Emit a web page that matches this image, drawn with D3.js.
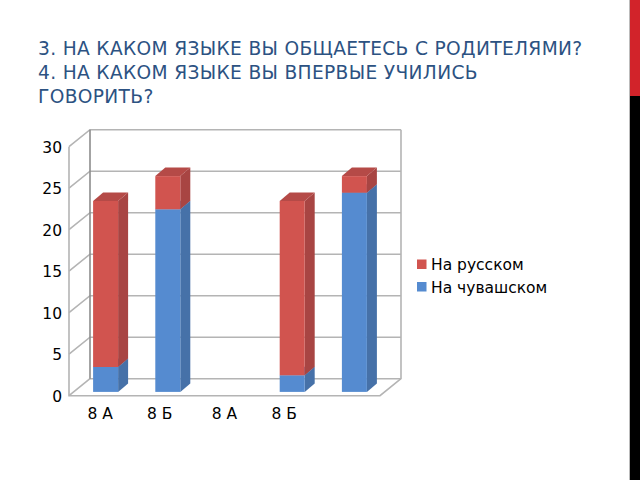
<!DOCTYPE html>
<html>
<head>
<meta charset="utf-8">
<script src="https://cdnjs.cloudflare.com/ajax/libs/d3/7.8.5/d3.min.js"></script>
<style>
html, body { margin: 0; padding: 0; background: #fff; }
svg { display: block; }
</style>
</head>
<body>
<svg id="chart" width="640" height="480"></svg>
<script>
// DATA -------------------------------------------------------------------
var titleLines = [
  "3. НА КАКОМ ЯЗЫКЕ ВЫ ОБЩАЕТЕСЬ С РОДИТЕЛЯМИ?",
  "4. НА КАКОМ ЯЗЫКЕ ВЫ ВПЕРВЫЕ УЧИЛИСЬ",
  "ГОВОРИТЬ?"
];
// the labels sit in the first four slots, the last slot has no label
var slots = [0, 1, 2, 3, 4];
var slotLabels = ["8 А", "8 Б", "8 А", "8 Б", ""];
var chuvash = [3, 22, 0, 2, 24];
var russian = [20, 4, 0, 21, 2];
var seriesNames = ["На чувашском", "На русском"];
var yTicks = [0, 5, 10, 15, 20, 25, 30];

// LAYOUT -----------------------------------------------------------------
var svg = d3.select("#chart");
var x0 = 69, x1 = 380, yBottom = 395.7, yTop = 146.7;
var wallDx = 21, wallDy = -17;     // depth of the chart box
var barDx = 10, barDy = -8.5;      // depth of a bar
var insetX = 5.5, insetY = -3.8;   // bars stand a little inside the floor
var barWidth = 25;

var x = d3.scaleBand().domain(slots).range([x0, x1]);
var y = d3.scaleLinear().domain([0, 30]).range([yBottom, yTop]);
var line = d3.line();

// Side band and title
svg.append("rect").attr("x", 629).attr("y", 0).attr("width", 11).attr("height", 96).attr("fill", "#d2232a");
svg.append("rect").attr("x", 629).attr("y", 96).attr("width", 11).attr("height", 384).attr("fill", "#000");
svg.append("rect").attr("x", 629).attr("y", 0).attr("width", 1).attr("height", 480).attr("fill", "#bbb");

svg.selectAll(".title").data(titleLines).enter().append("text")
  .attr("class", "title")
  .attr("x", 38)
  .attr("y", function(d, i) { return 55 + i * 24; })
  .attr("font-family", "'DejaVu Sans'")
  .attr("font-size", 18.6)
  .attr("letter-spacing", 0.35)
  .attr("fill", "#2c5282")
  .text(function(d) { return d; });

// Walls and gridlines
var grid = svg.append("g").attr("fill", "none").attr("stroke", "#b4b4b4").attr("stroke-width", 1.6);
yTicks.forEach(function(t) {
  var pts = [[x0, y(t)], [x0 + wallDx, y(t) + wallDy]];
  if (t > 0) pts.push([x1 + wallDx, y(t) + wallDy]);
  grid.append("path").attr("d", line(pts));
});
grid.append("path").attr("d", line([[x0, y(30)], [x0, y(0)], [x1, y(0)], [x1 + wallDx, y(0) + wallDy], [x1 + wallDx, y(30) + wallDy]]));
grid.append("path").attr("d", line([[x0 + wallDx, y(0) + wallDy], [x1 + wallDx, y(0) + wallDy]]));
grid.append("path").attr("d", line([[x0 + wallDx, y(30) + wallDy], [x0 + wallDx, y(0) + wallDy]])).attr("stroke", "#8c8c8c");

// Axis labels
svg.selectAll(".ytick").data(yTicks).enter().append("text")
  .attr("class", "ytick")
  .attr("x", 62)
  .attr("y", function(d) { return y(d) + 6; })
  .attr("text-anchor", "end")
  .attr("font-family", "'DejaVu Sans'")
  .attr("font-size", 15.5)
  .attr("fill", "#000")
  .text(function(d) { return d; });

svg.selectAll(".xtick").data(slots).enter().append("text")
  .attr("class", "xtick")
  .attr("x", function(d) {
    // the Б labels sit slightly left of their slot centre
    var nudge = slotLabels[d] === "8 Б" ? -2.5 : 0;
    return x(d) + x.bandwidth() / 2 + nudge;
  })
  .attr("y", 419)
  .attr("text-anchor", "middle")
  .attr("font-family", "'DejaVu Sans'")
  .attr("font-size", 15.5)
  .attr("fill", "#000")
  .text(function(d) { return slotLabels[d]; });

// Stacked 3D bars
var rows = slots.map(function(s) { return { slot: s, "На чувашском": chuvash[s], "На русском": russian[s] }; });
var stacked = d3.stack().keys(seriesNames)(rows);
var front = { "На чувашском": "#558bd0", "На русском": "#d1544f" };
var side = { "На чувашском": "#4671a8", "На русском": "#a84543" };
var top3d = { "На чувашском": "#4a78b2", "На русском": "#b54a47" };

stacked.forEach(function(layer) {
  var g = svg.append("g");
  layer.forEach(function(d) {
    if (d[1] === d[0]) return;
    var left = x(d.data.slot) + x.bandwidth() / 2 - barWidth / 2 + insetX;
    var right = left + barWidth;
    var yLow = y(d[0]) + insetY, yHigh = y(d[1]) + insetY;
    g.append("path").attr("fill", side[layer.key])
      .attr("d", line([[right, yLow], [right + barDx, yLow + barDy], [right + barDx, yHigh + barDy], [right, yHigh]]) + "Z");
    g.append("path").attr("fill", top3d[layer.key])
      .attr("d", line([[left, yHigh], [left + barDx, yHigh + barDy], [right + barDx, yHigh + barDy], [right, yHigh]]) + "Z");
    g.append("rect").attr("fill", front[layer.key])
      .attr("x", left).attr("y", yHigh).attr("width", barWidth).attr("height", yLow - yHigh);
  });
});

// Legend
var legend = svg.selectAll(".legend").data(seriesNames.slice().reverse()).enter().append("g")
  .attr("class", "legend")
  .attr("transform", function(d, i) { return "translate(417," + (259.5 + i * 22.5) + ")"; });
legend.append("rect").attr("width", 9.5).attr("height", 9.5).attr("fill", function(d) { return front[d]; });
legend.append("text")
  .attr("x", 14)
  .attr("y", 10.5)
  .attr("font-family", "'DejaVu Sans'")
  .attr("font-size", 15.5)
  .attr("fill", "#000")
  .text(function(d) { return d; });
</script>
</body>
</html>
